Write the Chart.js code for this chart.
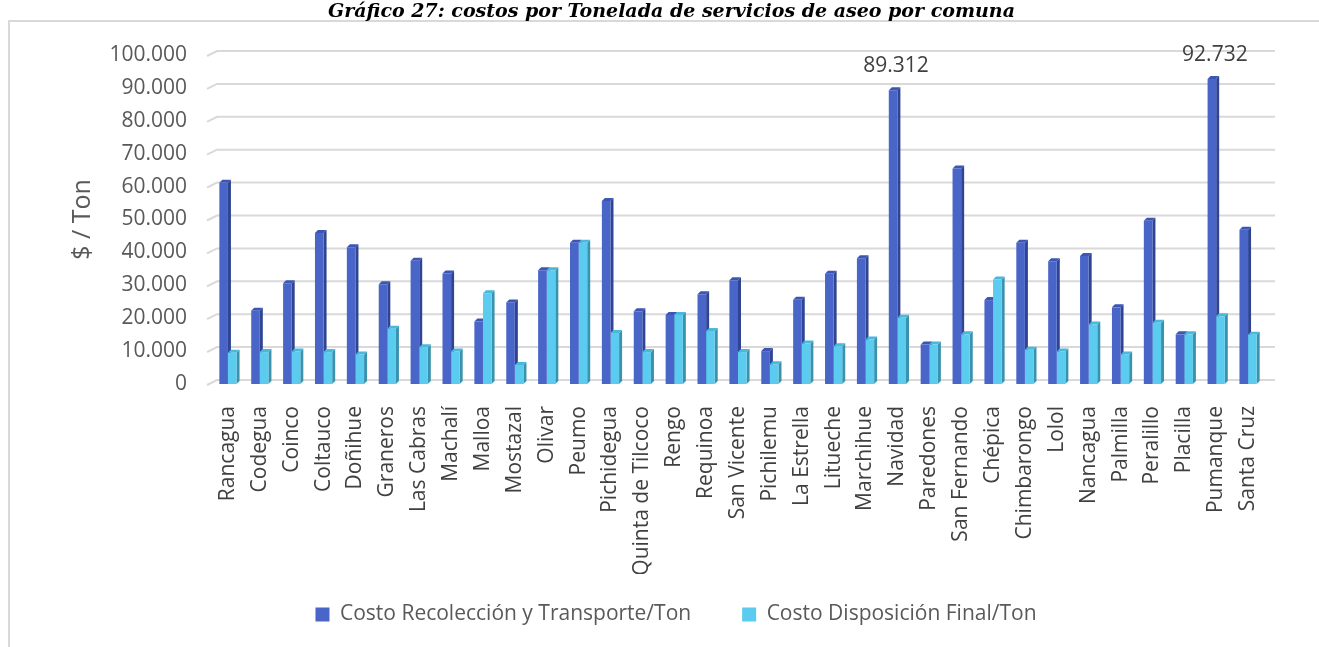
<!DOCTYPE html>
<html>
<head>
<meta charset="utf-8">
<script src="https://cdn.jsdelivr.net/npm/chart.js"></script>
<style>
  html, body { margin: 0; padding: 0; background: #fff; }
  body { width: 1319px; height: 647px; position: relative; overflow: hidden; }
  #titulo {
    position: absolute; left: 12px; top: 0px; width: 1319px;
    text-align: center; font-family: "DejaVu Serif", serif;
    font-weight: bold; font-style: italic; font-size: 19px; line-height: 20px;
    color: #000; z-index: 2;
  }
  #marco {
    position: absolute; left: 8px; top: 20px; width: 1320px; height: 650px;
    border-left: 2px solid #d9d9d9; border-top: 2px solid #d9d9d9;
  }
  #wrap { position: absolute; left: 0; top: 0; width: 1319px; height: 647px; }
  canvas { display: block; }
</style>
</head>
<body>
<div id="titulo">Gráfico 27: costos por Tonelada de servicios de aseo por comuna</div>
<div id="marco"></div>
<div id="wrap"><canvas id="costosChart" width="1319" height="647"></canvas></div>
<script>
// comunas y costos ($ / Ton)
var comunas = ['Rancagua', 'Codegua', 'Coinco', 'Coltauco', 'Doñihue', 'Graneros', 'Las Cabras',
  'Machalí', 'Malloa', 'Mostazal', 'Olivar', 'Peumo', 'Pichidegua', 'Quinta de Tilcoco', 'Rengo',
  'Requinoa', 'San Vicente', 'Pichilemu', 'La Estrella', 'Litueche', 'Marchihue', 'Navidad',
  'Paredones', 'San Fernando', 'Chépica', 'Chimbarongo', 'Lolol', 'Nancagua', 'Palmilla',
  'Peralillo', 'Placilla', 'Pumanque', 'Santa Cruz'];

var recoleccion = [61200, 22300, 30600, 45900, 41600, 30300, 37500, 33600, 19000, 24800, 34600,
  42900, 55600, 22100, 21000, 27300, 31500, 10000, 25600, 33500, 38200, 89312,
  12000, 65500, 25500, 42900, 37300, 38900, 23300, 49600, 15100, 92732, 46900];

var disposicion = [9500, 9700, 9900, 9700, 9000, 16800, 11200, 9900, 27600, 5800, 34600,
  42900, 15500, 9700, 21000, 16100, 9700, 6000, 12300, 11500, 13500, 20100,
  12000, 15100, 31800, 10400, 9900, 18100, 9000, 18600, 15100, 20600, 15000];

// comunas con etiqueta de valor
var conEtiqueta = ['Navidad', 'Pumanque'];

var yTicks = [0, 10000, 20000, 30000, 40000, 50000, 60000, 70000, 80000, 90000, 100000];

function fmt(v) {
  return String(v).replace(/\B(?=(\d{3})+(?!\d))/g, '.');
}

var fuente = '"Open Sans", "Liberation Sans", sans-serif';
var sombra = ['#2f4493', '#3a93ad'];
var tapa = ['#3b56b4', '#49b8dc'];

// grilla con algo de profundidad, caras laterales y etiquetas
var efecto3d = {
  id: 'efecto3d',
  afterLayout: function (chart) {
    // la leyenda del original queda algo corrida a la derecha
    chart.legend.left += 14;
    chart.legend.right += 14;
  },
  beforeDatasetsDraw: function (chart) {
    var ctx = chart.ctx, y = chart.scales.y, a = chart.chartArea;
    ctx.save();
    ctx.strokeStyle = '#d9d9d9';
    ctx.lineWidth = 2;
    yTicks.forEach(function (t) {
      var py = y.getPixelForValue(t);
      ctx.beginPath();
      ctx.moveTo(a.left - 5, py + 1);
      ctx.lineTo(a.left + 5, py - 4);
      ctx.lineTo(a.right + 11, py - 4);
      ctx.stroke();
    });
    var d = 3;
    chart.data.datasets.forEach(function (ds, i) {
      chart.getDatasetMeta(i).data.forEach(function (b) {
        var l = b.x - b.width / 2, r = b.x + b.width / 2;
        ctx.fillStyle = sombra[i];
        ctx.beginPath();
        ctx.moveTo(r, b.y); ctx.lineTo(r + d, b.y - d);
        ctx.lineTo(r + d, b.base - d); ctx.lineTo(r, b.base);
        ctx.closePath(); ctx.fill();
        ctx.fillStyle = tapa[i];
        ctx.beginPath();
        ctx.moveTo(l, b.y); ctx.lineTo(l + d, b.y - d);
        ctx.lineTo(r + d, b.y - d); ctx.lineTo(r, b.y);
        ctx.closePath(); ctx.fill();
      });
    });
    ctx.restore();
  },
  afterDatasetsDraw: function (chart) {
    var ctx = chart.ctx;
    var meta = chart.getDatasetMeta(0);
    ctx.save();
    ctx.font = '21px ' + fuente;
    ctx.fillStyle = '#404040';
    ctx.textAlign = 'center';
    ctx.textBaseline = 'middle';
    conEtiqueta.forEach(function (c) {
      var i = comunas.indexOf(c);
      var b = meta.data[i];
      ctx.fillText(fmt(recoleccion[i]), b.x + 3, b.y - 24);
    });
    ctx.restore();
  }
};

var ctx = document.getElementById('costosChart').getContext('2d');
var costosChart = new Chart(ctx, {
  type: 'bar',
  data: {
    labels: comunas,
    datasets: [{
      label: 'Costo Recolección y Transporte/Ton',
      data: recoleccion,
      backgroundColor: '#4a65c8',
      barPercentage: 1,
      categoryPercentage: 0.54
    }, {
      label: 'Costo Disposición Final/Ton',
      data: disposicion,
      backgroundColor: '#5bcbf0',
      barPercentage: 1,
      categoryPercentage: 0.54
    }]
  },
  options: {
    responsive: false,
    animation: false,
    layout: { padding: { left: 60, right: 55, top: 55, bottom: 12 } },
    scales: {
      x: {
        grid: { display: false },
        border: { display: false },
        ticks: {
          autoSkip: false, minRotation: 90, maxRotation: 90, padding: 14,
          color: '#404040', font: { family: fuente, size: 21 }
        },
        afterFit: function (s) { s.height = 190; }
      },
      y: {
        min: 0, max: 100000,
        grid: { display: false },
        border: { display: false },
        afterBuildTicks: function (s) { s.ticks = yTicks.map(function (v) { return { value: v }; }); },
        ticks: {
          padding: 17, color: '#595959',
          font: { family: fuente, size: 21 },
          callback: function (v) { return fmt(v); }
        },
        title: {
          display: true, text: '$ / Ton', color: '#595959',
          font: { family: fuente, size: 25 }, padding: { top: 8, bottom: 0 }
        },
        afterFit: function (s) { s.width = 152; }
      }
    },
    plugins: {
      legend: {
        position: 'bottom',
        labels: {
          boxWidth: 14, boxHeight: 14, padding: 30, color: '#595959',
          font: { family: fuente, size: 21 },
          generateLabels: function (chart) {
            var items = Chart.defaults.plugins.legend.labels.generateLabels(chart);
            items[0].text += '\u2003';
            return items;
          }
        }
      },
      tooltip: { enabled: false }
    }
  },
  plugins: [efecto3d]
});
</script>
</body>
</html>
